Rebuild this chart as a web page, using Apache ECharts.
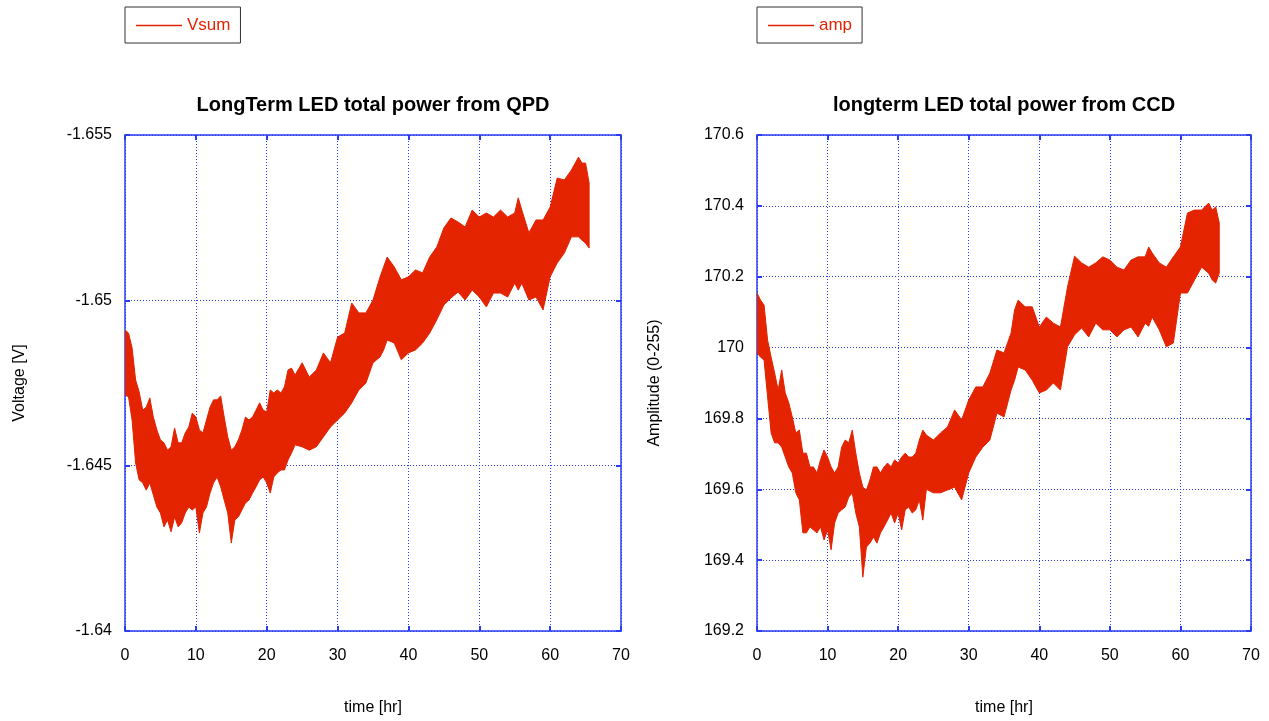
<!DOCTYPE html>
<html>
<head>
<meta charset="utf-8">
<script src="https://cdn.jsdelivr.net/npm/echarts@6/dist/echarts.min.js"></script>
<style>
  html, body { margin: 0; padding: 0; background: #fff; }
  #chart { width: 1269px; height: 721px; }
</style>
</head>
<body>
<div id="chart"></div>
<script>
// Sample times (hr) at which the noise envelope of each trace was taken
const hours = [
  0, 0.5, 1, 1.5, 2, 2.5, 3, 3.5, 4, 4.5, 5, 5.5, 6, 6.5, 7, 7.5, 8, 8.5, 9, 9.5,
  10, 10.5, 11, 11.5, 12, 12.5, 13, 13.5, 14, 14.5, 15, 15.5, 16, 16.5, 17, 17.5, 18, 18.5, 19, 19.5,
  20, 20.5, 21, 21.5, 22, 22.5, 23, 23.5, 24,
  25, 26, 27, 28, 29, 30, 31, 32, 33, 34, 35, 36, 36.5,
  37, 38, 39, 40, 41, 42, 43, 44, 45, 46, 47, 48, 49, 50, 51, 52, 53, 54, 55, 55.5,
  56, 57, 58, 59, 60, 61, 62, 63, 64, 64.5, 65, 65.5
];

// QPD sum voltage Vsum [V]: most negative and least negative excursion per sample
const vsumMin = [
  -1.64910, -1.64901, -1.64856, -1.64759, -1.64723, -1.64668, -1.64677, -1.64705, -1.64647, -1.64608,
  -1.64578, -1.64569, -1.64547, -1.64557, -1.64614, -1.64569, -1.64569, -1.64599, -1.64617, -1.64659,
  -1.64647, -1.64608, -1.64599, -1.64638, -1.64677, -1.64699, -1.64699, -1.64711, -1.64647, -1.64587,
  -1.64547, -1.64557, -1.64578, -1.64608, -1.64647, -1.64638, -1.64647, -1.64668, -1.64690, -1.64668,
  -1.64662, -1.64729, -1.64720, -1.64729, -1.64720, -1.64738, -1.64789, -1.64795, -1.64774,
  -1.64811, -1.64768, -1.64789, -1.64841, -1.64811, -1.64889, -1.64901, -1.64992, -1.64962, -1.64962,
  -1.65001, -1.65071, -1.65101,
  -1.65131, -1.65101, -1.65062, -1.65071, -1.65092, -1.65083, -1.65131, -1.65161, -1.65219, -1.65249,
  -1.65237, -1.65222, -1.65273, -1.65252, -1.65264, -1.65252, -1.65273, -1.65252, -1.65264, -1.65310,
  -1.65273, -1.65204, -1.65243, -1.65243, -1.65282, -1.65370, -1.65364, -1.65394, -1.65433, -1.65415,
  -1.65415, -1.65355
];
const vsumMax = [
  -1.64714, -1.64708, -1.64638, -1.64508, -1.64457, -1.64448, -1.64426, -1.64448, -1.64411, -1.64375,
  -1.64357, -1.64315, -1.64336, -1.64300, -1.64345, -1.64315, -1.64327, -1.64357, -1.64375, -1.64366,
  -1.64375, -1.64296, -1.64357, -1.64375, -1.64417, -1.64448, -1.64466, -1.64436, -1.64396, -1.64357,
  -1.64266, -1.64336, -1.64345, -1.64366, -1.64387, -1.64396, -1.64417, -1.64436, -1.64457, -1.64466,
  -1.64448, -1.64417, -1.64466, -1.64478, -1.64487, -1.64487, -1.64517, -1.64538, -1.64563,
  -1.64557, -1.64547, -1.64557, -1.64587, -1.64617, -1.64638, -1.64659, -1.64690, -1.64729, -1.64750,
  -1.64811, -1.64829, -1.64850,
  -1.64880, -1.64871, -1.64820, -1.64841, -1.64850, -1.64871, -1.64901, -1.64941, -1.64986, -1.65007,
  -1.65025, -1.65001, -1.65031, -1.65010, -1.64980, -1.65022, -1.65022, -1.65010, -1.65052, -1.65031,
  -1.65052, -1.65001, -1.65010, -1.64971, -1.65071, -1.65113, -1.65143, -1.65192, -1.65192, -1.65182,
  -1.65173, -1.65158
];

// CCD amplitude (0-255): highest and lowest reading per sample
const ampMax = [
  170.154, 170.134, 170.120, 170.021, 169.973, 169.928, 169.880, 169.937, 169.872, 169.844,
  169.804, 169.759, 169.767, 169.702, 169.702, 169.663, 169.663, 169.646, 169.683, 169.711,
  169.691, 169.663, 169.646, 169.663, 169.719, 169.739, 169.731, 169.767, 169.702, 169.646,
  169.606, 169.598, 169.626, 169.663, 169.663, 169.646, 169.663, 169.674, 169.663, 169.683,
  169.674, 169.691, 169.702, 169.691, 169.691, 169.702, 169.739, 169.767, 169.753,
  169.739, 169.759, 169.776, 169.824, 169.796, 169.852, 169.889, 169.889, 169.928, 169.993,
  169.985, 170.041, 170.106,
  170.134, 170.115, 170.115, 170.058, 170.086, 170.069, 170.058, 170.171, 170.258, 170.239,
  170.227, 170.239, 170.256, 170.247, 170.227, 170.219, 170.247, 170.256, 170.256, 170.284,
  170.267, 170.239, 170.227, 170.256, 170.284, 170.380, 170.388, 170.388, 170.408, 170.388,
  170.397, 170.352
];
const ampMin = [
  169.985, 169.973, 169.965, 169.861, 169.759, 169.731, 169.731, 169.719, 169.691, 169.663,
  169.646, 169.590, 169.570, 169.477, 169.477, 169.494, 169.485, 169.477, 169.494, 169.457,
  169.485, 169.429, 169.505, 169.533, 169.542, 169.550, 169.578, 169.590, 169.533, 169.494,
  169.352, 169.437, 169.448, 169.465, 169.448, 169.477, 169.494, 169.513, 169.533, 169.505,
  169.533, 169.485, 169.542, 169.550, 169.533, 169.542, 169.570, 169.513, 169.600,
  169.590, 169.590, 169.598, 169.606, 169.570, 169.646, 169.691, 169.719, 169.739, 169.815,
  169.804, 169.880, 169.908,
  169.945, 169.937, 169.908, 169.872, 169.880, 169.900, 169.880, 170.002, 170.036, 170.055,
  170.030, 170.069, 170.050, 170.050, 170.030, 170.050, 170.058, 170.030, 170.069, 170.060,
  170.086, 170.050, 170.002, 170.013, 170.154, 170.154, 170.191, 170.227, 170.210, 170.191,
  170.182, 170.210
];

const vsumTicks = ['-1.655', '-1.65', '-1.645', '-1.64'];
const ampTicks = ['169.2', '169.4', '169.6', '169.8', '170', '170.2', '170.4', '170.6'];

const RED = '#e42300';
const BLUE = '#2a3cf0';
const FONT = '"Liberation Sans", Arial, sans-serif';

// Draws the noise band of a trace as one filled polygon between its two edges
function bandRenderer(t, edgeA, edgeB) {
  return function (params, api) {
    if (params.dataIndex !== 0) return null;
    const pts = [];
    for (let i = 0; i < t.length; i++) pts.push(api.coord([t[i], edgeA[i]]));
    for (let i = t.length - 1; i >= 0; i--) pts.push(api.coord([t[i], edgeB[i]]));
    return {
      type: 'polygon',
      shape: { points: pts },
      style: { fill: RED, stroke: RED, lineWidth: 1, lineJoin: 'miter' }
    };
  };
}

function tickFmt(labels) {
  return function (v) {
    const s = String(parseFloat(v.toFixed(3)));
    return labels.indexOf(s) >= 0 ? s : '';
  };
}

const lbl = { fontSize: 16, color: '#000', fontFamily: FONT };
const nameStyle = { fontSize: 16, color: '#000', fontFamily: FONT };

function xAxes(gi) {
  return [
    {
      gridIndex: gi, type: 'value', min: 0, max: 70, interval: 10,
      name: 'time [hr]', nameLocation: 'middle', nameGap: 69,
      nameTextStyle: nameStyle,
      axisLine: { show: true, onZero: false, lineStyle: { color: BLUE, width: 1.5 } },
      axisTick: { show: true, inside: true, length: 5, lineStyle: { color: BLUE, width: 2 } },
      axisLabel: Object.assign({ margin: 17 }, lbl),
      splitLine: { show: true, lineStyle: { color: BLUE, type: [1, 2], width: 1 } }
    },
    {
      gridIndex: gi, type: 'value', min: 0, max: 70, interval: 10, position: 'top',
      axisLine: { show: true, onZero: false, lineStyle: { color: BLUE, width: 1.5 } },
      axisTick: { show: true, inside: true, length: 5, lineStyle: { color: BLUE, width: 2 } },
      axisLabel: { show: false }, splitLine: { show: false }
    }
  ];
}

function yAxes(gi, cfg) {
  return [
    {
      gridIndex: gi, type: 'value', min: cfg.min, max: cfg.max, interval: cfg.interval,
      inverse: !!cfg.inverse,
      name: cfg.name, nameLocation: 'middle', nameGap: cfg.nameGap, nameRotate: 90,
      nameTextStyle: nameStyle,
      axisLine: { show: true, onZero: false, lineStyle: { color: BLUE, width: 1.5 } },
      axisTick: { show: true, inside: true, length: 5, lineStyle: { color: BLUE, width: 2 } },
      axisLabel: Object.assign({ margin: 13, formatter: tickFmt(cfg.labels) }, lbl),
      splitLine: { show: true, lineStyle: { color: BLUE, type: [1, 2], width: 1 } }
    },
    {
      gridIndex: gi, type: 'value', min: cfg.min, max: cfg.max, interval: cfg.interval,
      inverse: !!cfg.inverse, position: 'right',
      axisLine: { show: true, onZero: false, lineStyle: { color: BLUE, width: 1.5 } },
      axisTick: { show: true, inside: true, length: 5, lineStyle: { color: BLUE, width: 2 } },
      axisLabel: { show: false }, splitLine: { show: false }
    }
  ];
}

const chart = echarts.init(document.getElementById('chart'), null, { renderer: 'canvas' });

const legendBase = {
  orient: 'horizontal',
  top: 7,
  icon: 'rect',
  itemWidth: 46,
  itemHeight: 1.5,
  itemGap: 0,
  padding: [10, 10, 9, 11],
  borderColor: '#333',
  borderWidth: 1,
  borderRadius: 0,
  selectedMode: false,
  textStyle: { color: RED, fontSize: 17, fontFamily: FONT, padding: [0, 0, 0, 0] }
};

chart.setOption({
  animation: false,
  backgroundColor: '#fff',
  title: [
    {
      text: 'LongTerm LED total power from QPD', left: 368, top: 90, textAlign: 'center',
      textStyle: { fontSize: 20, fontWeight: 'bold', color: '#000', fontFamily: FONT }
    },
    {
      text: 'longterm LED total power from CCD', left: 999, top: 90, textAlign: 'center',
      textStyle: { fontSize: 20, fontWeight: 'bold', color: '#000', fontFamily: FONT }
    }
  ],
  legend: [
    Object.assign({}, legendBase, { left: 125, data: ['Vsum'] }),
    Object.assign({}, legendBase, { left: 757, data: ['amp'] })
  ],
  grid: [
    { left: 125, top: 135, width: 496, height: 496, show: false, outerBoundsMode: 'none' },
    { left: 757, top: 135, width: 494, height: 496, show: false, outerBoundsMode: 'none' }
  ],
  xAxis: xAxes(0).concat(xAxes(1)),
  yAxis: yAxes(0, {
    min: -1.655, max: -1.64, interval: 0.005, inverse: true,
    name: 'Voltage [V]', nameGap: 97, labels: vsumTicks
  }).concat(yAxes(1, {
    min: 169.2, max: 170.6, interval: 0.2,
    name: 'Amplitude (0-255)', nameGap: 94, labels: ampTicks
  })),
  series: [
    {
      name: 'Vsum', type: 'custom', xAxisIndex: 0, yAxisIndex: 0,
      itemStyle: { color: RED }, clip: true,
      encode: { x: 0, y: 1 },
      data: [[hours[0], vsumMin[0]]],
      renderItem: bandRenderer(hours, vsumMin, vsumMax)
    },
    {
      name: 'amp', type: 'custom', xAxisIndex: 2, yAxisIndex: 2,
      itemStyle: { color: RED }, clip: true,
      encode: { x: 0, y: 1 },
      data: [[hours[0], ampMax[0]]],
      renderItem: bandRenderer(hours, ampMax, ampMin)
    }
  ]
});
</script>
</body>
</html>
